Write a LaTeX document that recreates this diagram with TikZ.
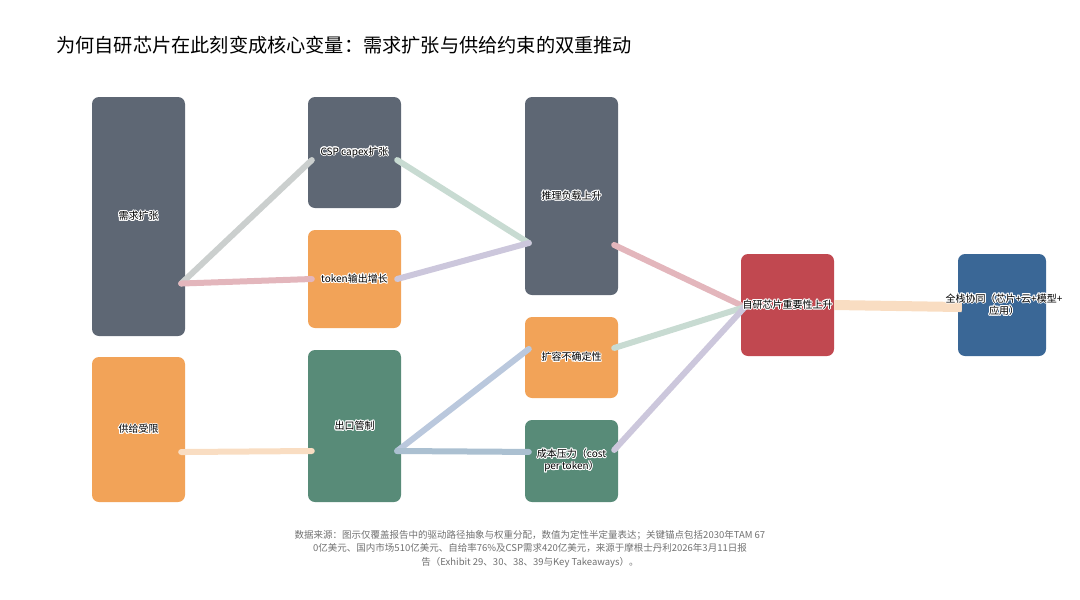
\documentclass[tikz,border=0pt]{standalone}
\usepackage{fontspec}
\setmainfont{Noto Sans CJK SC}
\usepackage{contour}
\contourlength{0.9pt}
\usetikzlibrary{calc}
\definecolor{cslate}{HTML}{5E6774}
\definecolor{corange}{HTML}{F2A358}
\definecolor{cgreen}{HTML}{588B78}
\definecolor{cred}{HTML}{C14850}
\definecolor{cblue}{HTML}{3A6796}
\definecolor{fgray}{HTML}{CBCFCE}
\definecolor{fpink}{HTML}{E3B6BC}
\definecolor{fmint}{HTML}{C8DBD2}
\definecolor{flav}{HTML}{CCC7DC}
\definecolor{fpeach}{HTML}{F9DDC2}
\definecolor{fsky}{HTML}{BAC8DD}
\definecolor{fsteel}{HTML}{ABC0D1}
\definecolor{notegray}{HTML}{707070}
\begin{document}
\begin{tikzpicture}[x=1pt,y=-1pt,
  box/.style={draw=none, rounded corners=7pt, inner sep=0pt, minimum width=93pt},
  lbl/.style={font=\fontsize{10}{12.5}\selectfont, text=black, align=center, inner sep=0pt},
  flow/.style={line width=6pt, line cap=round},
]
\useasboundingbox (0,0) rectangle (1080,600);

% title
\node[anchor=west, inner sep=0pt, font=\fontsize{19.2}{22}\selectfont] (title) at (56,45)
  {为何自研芯片在此刻变成核心变量：需求扩张与供给约束的双重推动};

% boxes
\node[box, fill=cslate, minimum height=239pt] (xq) at (138.5,216.5) {};
\node[box, fill=corange, minimum height=145pt] (gj) at (138.5,429.5) {};
\node[box, fill=cslate, minimum height=111pt] (csp) at (354.5,152.5) {};
\node[box, fill=corange, minimum height=98pt] (tok) at (354.5,279) {};
\node[box, fill=cgreen, minimum height=152pt] (ck) at (354.5,426) {};
\node[box, fill=cslate, minimum height=198pt] (tl) at (571.5,196) {};
\node[box, fill=corange, minimum height=81pt] (kr) at (571.5,357.5) {};
\node[box, fill=cgreen, minimum height=82pt] (cb) at (571.5,461) {};
\node[box, fill=cred, minimum height=102pt] (zy) at (787.5,305) {};
\node[box, fill=cblue, minimum height=102pt, minimum width=88pt] (qz) at (1002,305) {};

% flow end points
\coordinate (xq-o) at ($(xq.north east)!0.78!(xq.south east)+(-4,0)$);
\coordinate (gj-o) at ($(gj.north east)!0.655!(gj.south east)+(-4,0)$);
\coordinate (csp-i) at ($(csp.north west)!0.568!(csp.south west)+(4,0)$);
\coordinate (csp-o) at ($(csp.north east)!0.568!(csp.south east)+(-4,0)$);
\coordinate (tok-i) at ($(tok.north west)!0.5!(tok.south west)+(4,0)$);
\coordinate (tok-o) at ($(tok.north east)!0.5!(tok.south east)+(-4,0)$);
\coordinate (ck-i) at ($(ck.north west)!0.664!(ck.south west)+(4,0)$);
\coordinate (ck-o) at ($(ck.north east)!0.664!(ck.south east)+(-4,0)$);
\coordinate (tl-i) at ($(tl.north west)!0.737!(tl.south west)+(4,0)$);
\coordinate (tl-o) at ($(tl.north east)!0.747!(tl.south east)+(-4,0)$);
\coordinate (kr-i) at ($(kr.north west)!0.395!(kr.south west)+(4,0)$);
\coordinate (kr-o) at ($(kr.north east)!0.383!(kr.south east)+(-4,0)$);
\coordinate (cb-i) at ($(cb.north west)!0.39!(cb.south west)+(4,0)$);
\coordinate (cb-o) at ($(cb.north east)!0.366!(cb.south east)+(-4,0)$);
\coordinate (zy-i) at ($(zy.north west)!0.52!(zy.south west)+(4,0)$);
\coordinate (zy-o) at ($(zy.north east)!0.5!(zy.south east)+(0,0)$);
\coordinate (qz-i) at ($(qz.north west)!0.52!(qz.south west)+(4,0)$);

% flows
\draw[flow, fgray] (xq-o) -- (csp-i);
\draw[flow, fpink] (xq-o) -- (tok-i);
\draw[flow, fmint] (csp-o) -- (tl-i);
\draw[flow, flav] (tok-o) -- (tl-i);
\draw[flow, fpink] (tl-o) -- (zy-i);
\draw[flow, fpeach] (gj-o) -- (ck-i);
\draw[flow, fsky] (ck-o) -- (kr-i);
\draw[flow, fsteel] (ck-o) -- (cb-i);
\draw[flow, fmint] (kr-o) -- (zy-i);
\draw[flow, flav] (cb-o) -- (zy-i);
\draw[flow, fpeach, line width=10pt, line cap=butt] (zy-o) -- (qz-i);

% labels
\node[lbl] (xq-t) at (xq) {\contour{white}{需求扩张}};
\node[lbl] (gj-t) at (gj) {\contour{white}{供给受限}};
\node[lbl] (csp-t) at (csp) {\contour{white}{CSP capex扩张}};
\node[lbl] (tok-t) at (tok) {\contour{white}{token输出增长}};
\node[lbl] (ck-t) at (ck) {\contour{white}{出口管制}};
\node[lbl] (tl-t) at (tl) {\contour{white}{推理负载上升}};
\node[lbl] (kr-t) at (kr) {\contour{white}{扩容不确定性}};
\node[lbl] (cb-t) at (cb) {\contour{white}{成本压力（cost}\\\contour{white}{per token）}};
\node[lbl] (zy-t) at (zy) {\contour{white}{自研芯片重要性上升}};
\node[lbl] (qz-t) at (1004,305) {\contour{white}{全栈协同（芯片+云+模型+}\\\contour{white}{应用）}};

% note
\node[align=center, inner sep=0pt, text=notegray, font=\fontsize{9.5}{13.5}\selectfont] (note) at (530,549)
  {数据来源：图示仅覆盖报告中的驱动路径抽象与权重分配，数值为定性半定量表达；关键锚点包括2030年TAM 67\\
   0亿美元、国内市场510亿美元、自给率76\%及CSP需求420亿美元，来源于摩根士丹利2026年3月11日报\\
   告（Exhibit 29、30、38、39与Key Takeaways）。};
\end{tikzpicture}
\end{document}
